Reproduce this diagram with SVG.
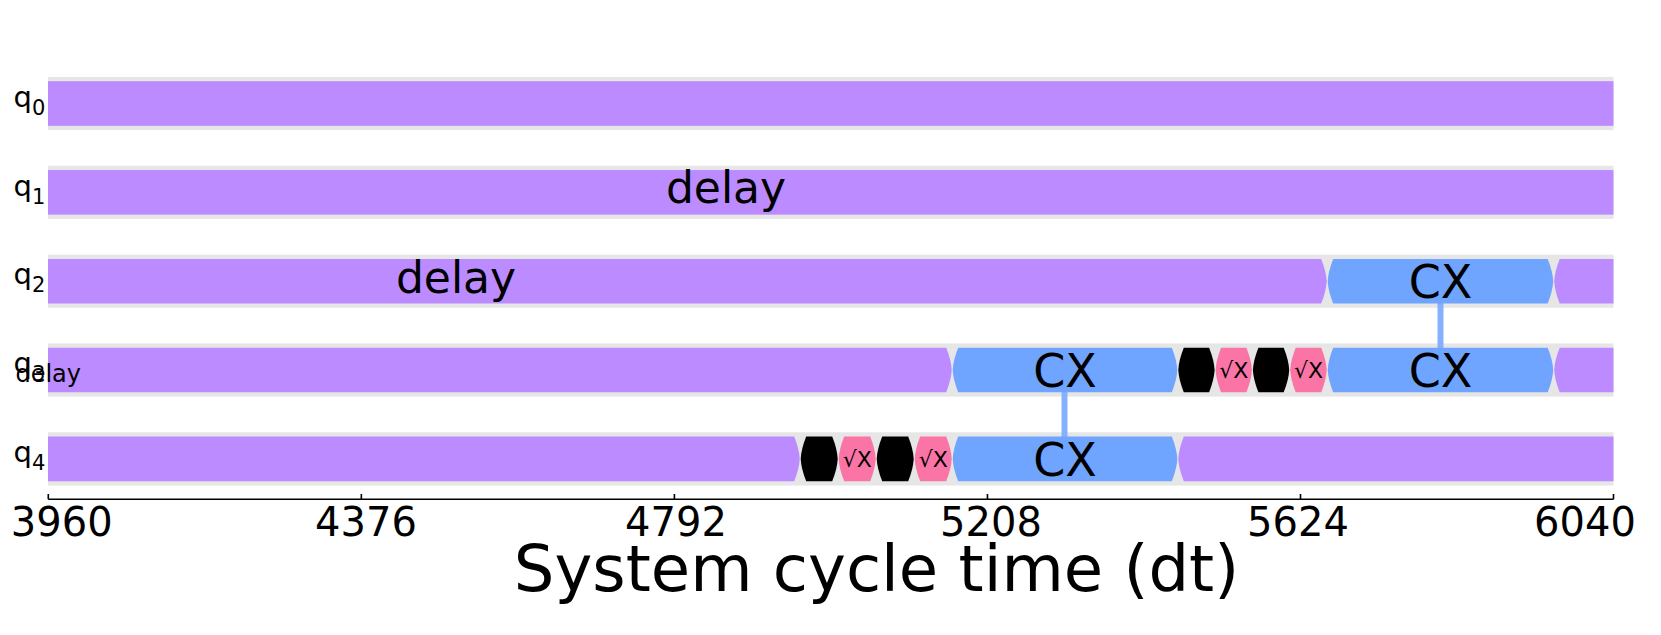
<svg xmlns="http://www.w3.org/2000/svg" width="1661" height="635" viewBox="0 0 1661 635">
<style>
text{font-family:"DejaVu Sans","Liberation Sans",sans-serif;fill:#000}
.band{fill:#E6E6E6}
.delay{fill:#BB8BFF}
.cx{fill:#6FA4FF}
.sx{fill:#FA74A6}
.blk{fill:#000000}
.lbl{font-size:29px}
.sub{font-size:21px}
.big{font-size:44px;text-anchor:middle}
.cxl{font-size:46px;text-anchor:middle}
.sxl{font-size:22px;text-anchor:middle}
.tick{font-size:40px;text-anchor:middle}
.conn{stroke:#84B0FF;stroke-width:6;fill:none}
.axis{stroke:#000;stroke-width:1.6;fill:none}
</style>
<rect width="1661" height="635" fill="#fff"/>
<g id="bands">
<rect class="band" x="48" y="76.9" width="1565.5" height="53.2"/>
<rect class="band" x="48" y="165.75" width="1565.5" height="53.2"/>
<rect class="band" x="48" y="254.6" width="1565.5" height="53.2"/>
<rect class="band" x="48" y="343.45" width="1565.5" height="53.2"/>
<rect class="band" x="48" y="432.3" width="1565.5" height="53.2"/>
</g>
<g id="labels">
<text class="lbl" x="13.5" y="106.7">q<tspan class="sub" dy="8">0</tspan></text>
<text class="lbl" x="13.5" y="195.55">q<tspan class="sub" dy="8">1</tspan></text>
<text class="lbl" x="13.5" y="284.4">q<tspan class="sub" dy="8">2</tspan></text>
<text class="lbl" x="13.5" y="373.25">q<tspan class="sub" dy="8">3</tspan></text>
<text class="lbl" x="13.5" y="462.1">q<tspan class="sub" dy="8">4</tspan></text>
</g>
<g id="connectors">
<line class="conn" x1="1440.5" y1="281.2" x2="1440.5" y2="370.05"/>
<line class="conn" x1="1064.5" y1="370.05" x2="1064.5" y2="458.9"/>
</g>
<g id="q0-delay"><rect class="delay" x="48" y="81.2" width="1565.5" height="44.6"/></g>
<g id="q1-delay"><rect class="delay" x="48" y="170.05" width="1565.5" height="44.6"/><text class="big" x="726" y="203.3">delay</text></g>
<g id="q2-delay1"><path class="delay" d="M48,258.9 H1321.2 Q1326.2,271.4 1326.7,281.2 Q1326.2,291 1321.2,303.5 H48 Z"/><text class="big" x="456" y="292.5">delay</text></g>
<g id="q2-cx"><path class="cx" d="M1333.2,258.9 H1547.7 Q1552.7,271.4 1553.2,281.2 Q1552.7,291 1547.7,303.5 H1333.2 Q1328.2,291 1327.7,281.2 Q1328.2,271.4 1333.2,258.9 Z"/><text class="cxl" x="1440.5" y="298">CX</text></g>
<g id="q2-delay2"><path class="delay" d="M1559.7,258.9 H1613.5 V303.5 H1559.7 Q1554.7,291 1554.2,281.2 Q1554.7,271.4 1559.7,258.9 Z"/></g>
<g id="q3-delay1"><path class="delay" d="M48,347.75 H946.2 Q951.2,360.25 951.7,370.05 Q951.2,379.85 946.2,392.35 H48 Z"/></g>
<g id="q3-cx1"><path class="cx" d="M958.2,347.75 H1171.8 Q1176.8,360.25 1177.3,370.05 Q1176.8,379.85 1171.8,392.35 H958.2 Q953.2,379.85 952.7,370.05 Q953.2,360.25 958.2,347.75 Z"/><text class="cxl" x="1065" y="386.85">CX</text></g>
<g id="q3-g1"><path class="blk" d="M1183.8,347.75 H1209.1 Q1214.1,360.25 1214.6,370.05 Q1214.1,379.85 1209.1,392.35 H1183.8 Q1178.8,379.85 1178.3,370.05 Q1178.8,360.25 1183.8,347.75 Z"/></g>
<g id="q3-sx1"><path class="sx" d="M1221.1,347.75 H1246.4 Q1251.4,360.25 1251.9,370.05 Q1251.4,379.85 1246.4,392.35 H1221.1 Q1216.1,379.85 1215.6,370.05 Q1216.1,360.25 1221.1,347.75 Z"/><text class="sxl" x="1233.8" y="378">√X</text></g>
<g id="q3-g2"><path class="blk" d="M1258.4,347.75 H1283.7 Q1288.7,360.25 1289.2,370.05 Q1288.7,379.85 1283.7,392.35 H1258.4 Q1253.4,379.85 1252.9,370.05 Q1253.4,360.25 1258.4,347.75 Z"/></g>
<g id="q3-sx2"><path class="sx" d="M1295.7,347.75 H1321.2 Q1326.2,360.25 1326.7,370.05 Q1326.2,379.85 1321.2,392.35 H1295.7 Q1290.7,379.85 1290.2,370.05 Q1290.7,360.25 1295.7,347.75 Z"/><text class="sxl" x="1308.5" y="378">√X</text></g>
<g id="q3-cx2"><path class="cx" d="M1333.2,347.75 H1547.7 Q1552.7,360.25 1553.2,370.05 Q1552.7,379.85 1547.7,392.35 H1333.2 Q1328.2,379.85 1327.7,370.05 Q1328.2,360.25 1333.2,347.75 Z"/><text class="cxl" x="1440.5" y="386.85">CX</text></g>
<g id="q3-delay2"><path class="delay" d="M1559.7,347.75 H1613.5 V392.35 H1559.7 Q1554.7,379.85 1554.2,370.05 Q1554.7,360.25 1559.7,347.75 Z"/></g>
<g id="q3-delay-label"><text x="15.4" y="381.7" font-size="24">delay</text></g>
<g id="q4-delay1"><path class="delay" d="M48,436.6 H794.2 Q799.2,449.1 799.7,458.9 Q799.2,468.7 794.2,481.2 H48 Z"/></g>
<g id="q4-g1"><path class="blk" d="M806.2,436.6 H832.2 Q837.2,449.1 837.7,458.9 Q837.2,468.7 832.2,481.2 H806.2 Q801.2,468.7 800.7,458.9 Q801.2,449.1 806.2,436.6 Z"/></g>
<g id="q4-sx1"><path class="sx" d="M844.2,436.6 H870.2 Q875.2,449.1 875.7,458.9 Q875.2,468.7 870.2,481.2 H844.2 Q839.2,468.7 838.7,458.9 Q839.2,449.1 844.2,436.6 Z"/><text class="sxl" x="857.2" y="466.9">√X</text></g>
<g id="q4-g2"><path class="blk" d="M882.2,436.6 H908.2 Q913.2,449.1 913.7,458.9 Q913.2,468.7 908.2,481.2 H882.2 Q877.2,468.7 876.7,458.9 Q877.2,449.1 882.2,436.6 Z"/></g>
<g id="q4-sx2"><path class="sx" d="M920.2,436.6 H946.2 Q951.2,449.1 951.7,458.9 Q951.2,468.7 946.2,481.2 H920.2 Q915.2,468.7 914.7,458.9 Q915.2,449.1 920.2,436.6 Z"/><text class="sxl" x="933.2" y="466.9">√X</text></g>
<g id="q4-cx"><path class="cx" d="M958.2,436.6 H1171.8 Q1176.8,449.1 1177.3,458.9 Q1176.8,468.7 1171.8,481.2 H958.2 Q953.2,468.7 952.7,458.9 Q953.2,449.1 958.2,436.6 Z"/><text class="cxl" x="1065" y="475.7">CX</text></g>
<g id="q4-delay2"><path class="delay" d="M1183.8,436.6 H1613.5 V481.2 H1183.8 Q1178.8,468.7 1178.3,458.9 Q1178.8,449.1 1183.8,436.6 Z"/></g>
<g id="axis">
<path class="axis" d="M48.3,499.3 H1613.5 M48.3,494 V499.3 M361.35,494 V499.3 M674.4,494 V499.3 M987.45,494 V499.3 M1300.5,494 V499.3 M1613.5,494 V499.3"/>
<text class="tick" x="61.7" y="535.7">3960</text>
<text class="tick" x="366" y="535.7">4376</text>
<text class="tick" x="676" y="535.7">4792</text>
<text class="tick" x="991" y="535.7">5208</text>
<text class="tick" x="1298" y="535.7">5624</text>
<text class="tick" x="1585" y="535.7">6040</text>
<text x="876.5" y="591" font-size="64" text-anchor="middle">System cycle time (dt)</text>
</g>
</svg>
